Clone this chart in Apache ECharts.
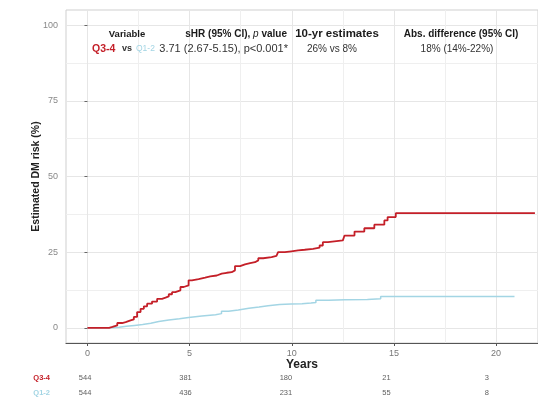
<!DOCTYPE html>
<html>
<head>
<meta charset="utf-8">
<script src="https://cdn.jsdelivr.net/npm/echarts@6/dist/echarts.min.js"></script>
<style>
  html, body { margin: 0; padding: 0; background: #fff; }
  #chart { width: 538px; height: 416px; }
</style>
</head>
<body>
<div id="chart"></div>
<script>
// Cumulative incidence of DM by group (years, %)
const q34Years = [0, 1.06, 1.22, 1.46, 1.70, 1.87, 2.11, 2.27, 2.43, 2.60, 2.76, 2.92, 3.16, 3.41, 3.65, 3.82, 3.98, 4.14, 4.30, 4.55, 4.71, 4.95, 5.11, 5.44, 5.76, 6.01, 6.33, 6.57, 6.82, 7.06, 7.22, 7.47, 7.71, 7.96, 8.20, 8.36, 8.60, 9.01, 9.25, 9.33, 9.66, 9.98, 10.31, 10.63, 11.04, 11.36, 11.52, 11.77, 12.50, 12.58, 13.07, 13.55, 14.04, 14.53, 14.69, 15.09, 21.9];
const q34Risk  = [0, 0.3, 0.8, 1.6, 1.9, 2.5, 2.8, 3.6, 5.2, 6.3, 7.1, 8.0, 8.7, 9.6, 10.0, 10.4, 11.1, 11.8, 12.4, 13.5, 14.0, 15.7, 16.1, 16.6, 17.0, 17.3, 17.9, 18.2, 18.4, 19.0, 20.4, 21.0, 21.4, 21.7, 22.3, 23.0, 23.4, 23.8, 24.2, 25.0, 25.3, 25.6, 25.8, 26.1, 26.5, 27.2, 28.3, 28.9, 29.2, 30.5, 31.8, 32.9, 34.1, 35.5, 36.6, 37.9, 37.9];
const q12Years = [0, 1.15, 1.55, 1.9, 2.3, 2.7, 3.1, 3.49, 3.98, 4.5, 4.95, 5.6, 6.27, 6.56, 6.9, 7.38, 7.9, 8.4, 8.84, 9.4, 9.96, 10.5, 10.94, 11.18, 11.8, 12.6, 13.7, 14.35, 20.9];
const q12Risk  = [0, 0.2, 0.5, 0.8, 1.1, 1.5, 2.1, 2.6, 3.0, 3.4, 3.9, 4.3, 4.7, 5.5, 5.9, 6.5, 6.9, 7.3, 7.7, 7.9, 8.0, 8.2, 8.4, 9.1, 9.3, 9.4, 9.6, 10.4, 10.4];

// Axis ticks
const xTicks = [0, 5, 10, 15, 20];
const xMinorTicks = [2.5, 7.5, 12.5, 17.5];
const yTicks = [0, 25, 50, 75, 100];
const yMinorTicks = [12.5, 37.5, 62.5, 87.5];

// Numbers at risk
const groups = ['Q3-4', 'Q1-2'];
const riskTimes = [0, 5, 10, 15, 20];
const atRiskQ34 = [544, 381, 180, 21, 3];
const atRiskQ12 = [544, 436, 231, 55, 8];

const RED = '#c41f28';
const BLUE = '#a3d5e4';
const INK = '#1a1a1a';
const FONT = '"Liberation Sans", Arial, sans-serif';
const X_MIN = -1.05, X_MAX = 22.05;

const chart = echarts.init(document.getElementById('chart'), null, { renderer: 'canvas' });

const zip = (xs, ys) => xs.map((x, i) => [x, ys[i]]);
const riskRow = (name, vals) => riskTimes.map((t, i) => [t, name, vals[i]]);
const txt = (x, y, text, font, fill, align) => ({
  type: 'text', x, y, z: 100,
  style: { text, font: font + ' ' + FONT, fill, textAlign: align || 'left', textVerticalAlign: 'middle' }
});

chart.setOption({
  animation: false,
  backgroundColor: '#fff',
  textStyle: { fontFamily: FONT },
  grid: [
    { left: 66, right: -3, top: 10, bottom: 73, show: true, borderColor: '#cfcfcf', borderWidth: 1, backgroundColor: '#fff' },
    { left: 64, right: 10, top: 370, height: 30 }
  ],
  xAxis: [
    {
      type: 'value', gridIndex: 0, min: X_MIN, max: X_MAX,
      name: 'Years', nameLocation: 'middle', nameGap: 16, nameMoveOverlap: false,
      nameTextStyle: { fontFamily: FONT, fontWeight: 'bold', fontSize: 12, color: '#222' },
      axisLine: { show: true, onZero: false, lineStyle: { color: '#555', width: 1.2 } },
      axisTick: { show: true, length: 3, customValues: xTicks, lineStyle: { color: '#555' } },
      axisLabel: { customValues: xTicks, fontSize: 9, color: '#777', margin: 6, fontFamily: FONT },
      splitLine: { show: true, lineStyle: { color: '#e6e6e6', width: 1 } }
    },
    {
      type: 'value', gridIndex: 0, min: X_MIN, max: X_MAX,
      axisLine: { show: false },
      axisTick: { show: false, customValues: xMinorTicks },
      axisLabel: { show: false, customValues: xMinorTicks },
      splitLine: { show: true, lineStyle: { color: '#efefef', width: 1 } }
    },
    {
      type: 'value', gridIndex: 1, min: X_MIN, max: X_MAX, show: false
    }
  ],
  yAxis: [
    {
      type: 'value', gridIndex: 0, min: -5, max: 105,
      name: 'Estimated DM risk (%)', nameLocation: 'middle', nameGap: 24, nameMoveOverlap: false,
      nameTextStyle: { fontFamily: FONT, fontWeight: 'bold', fontSize: 10.5, color: '#222' },
      axisLine: { show: false },
      axisTick: { show: true, length: 3, customValues: yTicks, lineStyle: { color: '#666' } },
      axisLabel: { customValues: yTicks, fontSize: 9, color: '#888', margin: 8, fontFamily: FONT },
      splitLine: { show: true, lineStyle: { color: '#e6e6e6', width: 1 } }
    },
    {
      type: 'value', gridIndex: 0, min: -5, max: 105,
      axisLine: { show: false },
      axisTick: { show: false, customValues: yMinorTicks },
      axisLabel: { show: false, customValues: yMinorTicks },
      splitLine: { show: true, lineStyle: { color: '#efefef', width: 1 } }
    },
    {
      type: 'category', gridIndex: 1, data: groups, inverse: true,
      axisLine: { show: false }, axisTick: { show: false },
      axisLabel: {
        margin: 14, fontSize: 7.5, fontWeight: 'bold', fontFamily: FONT,
        color: v => (v === 'Q3-4' ? RED : BLUE)
      }
    }
  ],
  graphic: [
    // header row
    txt(127, 34, 'Variable', 'bold 9.5px', INK, 'center'),
    {
      type: 'text', x: 287, y: 34, z: 100,
      style: {
        text: '{b|sHR (95% CI), }{i|p}{b| value}', textAlign: 'right', textVerticalAlign: 'middle',
        rich: {
          b: { font: 'bold 10px ' + FONT, fill: INK },
          i: { font: 'italic 10px ' + FONT, fill: INK }
        }
      }
    },
    txt(337, 33.5, '10-yr estimates', 'bold 11.5px', INK, 'center'),
    txt(461, 34, 'Abs. difference (95% CI)', 'bold 10px', INK, 'center'),
    // comparison row
    txt(92, 49, 'Q3-4', 'bold 10.5px', RED),
    txt(122, 49, 'vs', 'bold 9px', '#333'),
    txt(136, 49, 'Q1-2', '8.5px', BLUE),
    txt(288, 49, '3.71 (2.67-5.15), p<0.001*', '11px', '#333', 'right'),
    txt(332, 49, '26% vs 8%', '10px', '#333', 'center'),
    txt(457, 49, '18% (14%-22%)', '10px', '#333', 'center')
  ],
  series: [
    {
      name: 'Q1-2', type: 'line', step: 'end', xAxisIndex: 0, yAxisIndex: 0,
      data: zip(q12Years, q12Risk), showSymbol: false,
      lineStyle: { color: BLUE, width: 1.5 }, z: 3
    },
    {
      name: 'Q3-4', type: 'line', step: 'end', xAxisIndex: 0, yAxisIndex: 0,
      data: zip(q34Years, q34Risk), showSymbol: false,
      lineStyle: { color: RED, width: 1.8 }, z: 4
    },
    {
      type: 'scatter', xAxisIndex: 2, yAxisIndex: 2, symbolSize: 0,
      data: riskRow('Q3-4', atRiskQ34),
      label: { show: true, position: 'inside', formatter: p => p.value[2], fontSize: 7.5, color: '#333', fontFamily: FONT }
    },
    {
      type: 'scatter', xAxisIndex: 2, yAxisIndex: 2, symbolSize: 0,
      data: riskRow('Q1-2', atRiskQ12),
      label: { show: true, position: 'inside', formatter: p => p.value[2], fontSize: 7.5, color: '#333', fontFamily: FONT }
    }
  ]
});
</script>
</body>
</html>
